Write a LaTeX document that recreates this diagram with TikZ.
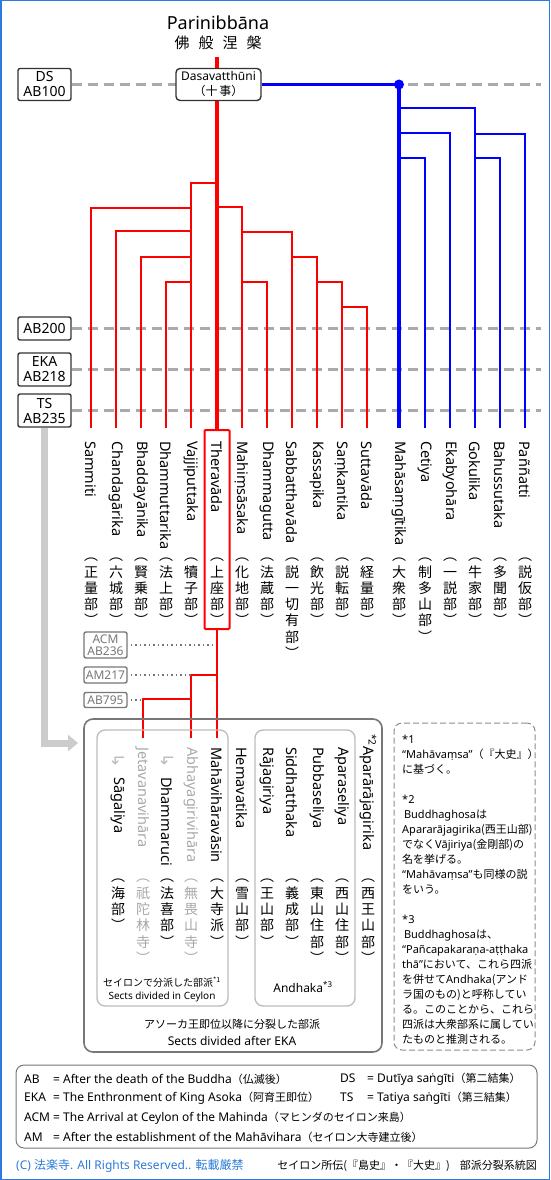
\documentclass[tikz,border=0pt]{standalone}
\usepackage{fontspec}
\setmainfont{Noto Sans}
\newfontfamily\jp{Noto Sans CJK JP}
\newfontfamily\arr{DejaVu Sans}
\usetikzlibrary{arrows.meta}

\definecolor{dashgray}{HTML}{AAAAAA}
\definecolor{boxgray}{HTML}{777777}
\definecolor{softgray}{HTML}{BBBBBB}
\definecolor{paligray}{HTML}{A8A8A8}
\definecolor{frameblue}{HTML}{2A7AE2}
\definecolor{copyblue}{HTML}{2B7BD6}

% japanese inline, and vertical stacks of kanji in brackets
\newcommand\ja[1]{{\jp #1}}
\newcommand\jas[1]{{\jp\fontsize{11}{12}\selectfont #1}}
\def\vjstop{\vjstop}
\def\vjend#1\vjloop{\fi}
\def\vjloop#1{\ifx#1\vjstop\vjend\fi\\#1\vjloop}
\newcommand\vj[1]{︵\vjloop#1\vjstop\\︶}

\tikzstyle{era} = [rectangle, rounded corners=2pt, draw=black!80, line width=1.4pt, fill=white, minimum width=53pt, inner sep=0pt, align=center, font=\fontsize{14}{15}\selectfont]
\tikzstyle{eraline} = [dashgray, line width=3pt, dash pattern=on 10pt off 6pt]
\tikzstyle{council} = [rectangle, rounded corners=4pt, draw=black!80, line width=1.4pt, fill=white, minimum width=85pt, minimum height=32pt, inner sep=0pt, align=center, font=\fontsize{12}{15}\selectfont]
\tikzstyle{redtrunk} = [red, line width=3.5pt]
\tikzstyle{redln} = [red, line width=2pt]
\tikzstyle{bluetrunk} = [blue, line width=3.5pt]
\tikzstyle{blueln} = [blue, line width=2pt]
\tikzstyle{sect} = [rotate=-90, anchor=west, inner sep=0pt, font=\fontsize{14.5}{16}\selectfont]
\tikzstyle{kanji} = [anchor=north, inner sep=0pt, align=center, font=\jp\fontsize{14}{16.3}\selectfont]
\tikzstyle{hook} = [rotate=-90, inner sep=0pt, text=softgray, font=\arr\fontsize{17}{17}\selectfont]
\tikzstyle{later} = [rectangle, rounded corners=2pt, draw=boxgray, line width=1.4pt, text=boxgray, minimum width=43pt, inner sep=0pt, align=center, font=\fontsize{12}{12}\selectfont]
\tikzstyle{dotline} = [boxgray, line width=1.5pt, dash pattern=on 1.5pt off 3pt]
\tikzstyle{bigarrow} = [black!20, line width=7pt, -{Triangle[length=10pt,width=16pt]}]
\tikzstyle{group} = [rectangle, rounded corners=9pt, draw=boxgray, line width=1.6pt, inner sep=0pt]
\tikzstyle{subgroup} = [rectangle, rounded corners=8pt, draw=softgray, line width=1.3pt, inner sep=0pt]
\tikzstyle{notebox} = [rectangle, rounded corners=8pt, draw=black!45, line width=1pt, dash pattern=on 6pt off 3pt, inner sep=0pt]
\tikzstyle{legend} = [anchor=west, inner sep=0pt, font=\fontsize{12}{14}\selectfont]

\begin{document}
\begin{tikzpicture}[x=1pt, y=-1pt]
\useasboundingbox (0,0) rectangle (550,1180);
\draw[frameblue, line width=1.5pt] (0.75,0.75) rectangle (549.25,1179.25);

% time marks
\node[era, minimum height=32pt] (ds) at (44.5,84.5) {DS\\AB100};
\node[era, minimum height=23pt] (ab200) at (44.5,328.5) {AB200};
\node[era, minimum height=33pt] (eka) at (44.5,369.5) {EKA\\AB218};
\node[era, minimum height=33pt] (ts) at (44.5,410.5) {TS\\AB235};
\coordinate (edge) at (541,0);
\draw[eraline] (ds.east) -- (ds.east -| edge);
\draw[eraline] (ab200.east) -- (ab200.east -| edge);
\draw[eraline] (eka.east) -- (eka.east -| edge);
\draw[eraline] (ts.east) -- (ts.east -| edge);

\node[inner sep=0pt, font=\fontsize{18}{20}\selectfont] (pari) at (218,23) {Parinibbāna};
\node[inner sep=0pt, font=\jp\fontsize{15}{18}\selectfont] (parijp) at (218,43) {佛\hspace{9pt}般\hspace{9pt}涅\hspace{9pt}槃};
\node[council] (dasa) at (218.5,84.5) {Dasavatthūni\\{\jp\fontsize{12}{13}\selectfont （十\hspace{2pt}事）}};

% line ends
\coordinate (nib) at (217,57);
\coordinate (sam) at (91,428);
\coordinate (cha) at (116,428);
\coordinate (bha) at (141,428);
\coordinate (dmu) at (166,428);
\coordinate (vaj) at (191,428);
\coordinate (the) at (217,428);
\coordinate (mah) at (242,428);
\coordinate (dmg) at (267,428);
\coordinate (sab) at (292,428);
\coordinate (kas) at (317,428);
\coordinate (sak) at (342,428);
\coordinate (sut) at (367,428);
\coordinate (msg) at (399,428);
\coordinate (cet) at (425,428);
\coordinate (eby) at (450,428);
\coordinate (gok) at (475,428);
\coordinate (bah) at (500,428);
\coordinate (pan) at (525,428);
\coordinate (bdot) at (dasa.east -| msg);

\node[draw=red, line width=2pt, rounded corners=1pt, minimum width=25pt, minimum height=199pt, inner sep=0pt] (tbox) at (217,529.5) {};

% Theravada side
\draw[redtrunk] (nib) -- (nib |- dasa.north);
\draw[redtrunk] (nib |- dasa.south) -- (tbox.north);
\draw[redln] (the |- 0,183) -| (vaj);
\draw[redln] (vaj |- 0,208) -| (sam);
\draw[redln] (vaj |- 0,231) -| (cha);
\draw[redln] (vaj |- 0,257) -| (bha);
\draw[redln] (vaj |- 0,282) -| (dmu);
\draw[redln] (the |- 0,207) -| (mah);
\draw[redln] (mah |- 0,232) -| (sab);
\draw[redln] (mah |- 0,282) -| (dmg);
\draw[redln] (sab |- 0,257) -| (kas);
\draw[redln] (kas |- 0,282) -| (sak);
\draw[redln] (sak |- 0,307) -| (sut);

% Mahasamghika side
\draw[bluetrunk] (dasa.east) -- (bdot) -- (msg);
\fill[blue] (bdot) circle (5pt);
\draw[blueln] (msg |- 0,108) -| (gok);
\draw[blueln] (msg |- 0,133) -| (eby);
\draw[blueln] (msg |- 0,158) -| (cet);
\draw[blueln] (gok |- 0,134) -| (pan);
\draw[blueln] (gok |- 0,158) -| (bah);

\node[sect] (sam-n) at (91,441) {Sammiti};
\node[sect] (cha-n) at (116,441) {Chandagārika};
\node[sect] (bha-n) at (141,441) {Bhaddayānika};
\node[sect] (dmu-n) at (166,441) {Dhammuttarika};
\node[sect] (vaj-n) at (191,441) {Vajjiputtaka};
\node[sect] (the-n) at (217,441) {Theravāda};
\node[sect] (mah-n) at (242,441) {Mahiṃsāsaka};
\node[sect] (dmg-n) at (267,441) {Dhammagutta};
\node[sect] (sab-n) at (292,441) {Sabbatthavāda};
\node[sect] (kas-n) at (317,441) {Kassapika};
\node[sect] (sak-n) at (342,441) {Saṃkantika};
\node[sect] (sut-n) at (367,441) {Suttavāda};
\node[sect] (msg-n) at (399,441) {Mahāsaṃgītika};
\node[sect] (cet-n) at (425,441) {Cetiya};
\node[sect] (eby-n) at (450,441) {Ekabyohāra};
\node[sect] (gok-n) at (475,441) {Gokulika};
\node[sect] (bah-n) at (500,441) {Bahussutaka};
\node[sect] (pan-n) at (525,441) {Paññatti};

\node[kanji] (sam-k) at (91,558) {\vj{正量部}};
\node[kanji] (cha-k) at (116,558) {\vj{六城部}};
\node[kanji] (bha-k) at (141,558) {\vj{賢乗部}};
\node[kanji] (dmu-k) at (166,558) {\vj{法上部}};
\node[kanji] (vaj-k) at (191,558) {\vj{犢子部}};
\node[kanji] (the-k) at (217,558) {\vj{上座部}};
\node[kanji] (mah-k) at (242,558) {\vj{化地部}};
\node[kanji] (dmg-k) at (267,558) {\vj{法蔵部}};
\node[kanji] (sab-k) at (292,558) {\vj{説一切有部}};
\node[kanji] (kas-k) at (317,558) {\vj{飲光部}};
\node[kanji] (sak-k) at (342,558) {\vj{説転部}};
\node[kanji] (sut-k) at (367,558) {\vj{経量部}};
\node[kanji] (msg-k) at (399,558) {\vj{大衆部}};
\node[kanji] (cet-k) at (425,558) {\vj{制多山部}};
\node[kanji] (eby-k) at (450,558) {\vj{一説部}};
\node[kanji] (gok-k) at (475,558) {\vj{牛家部}};
\node[kanji] (bah-k) at (500,558) {\vj{多聞部}};
\node[kanji] (pan-k) at (525,558) {\vj{説仮部}};

% Ceylon
\node[later, minimum height=26pt] (acm) at (105.5,645) {ACM\\AB236};
\node[later, minimum height=16pt] (am) at (105.5,675) {AM217};
\node[later, minimum height=15pt] (ab795) at (105.5,700) {AB795};
\coordinate (mvs) at (217,738);
\coordinate (abh) at (191,738);
\coordinate (jet) at (143,738);
\draw[redln] (tbox.south) -- (mvs);
\draw[redln] (mvs |- 0,675) -| (abh);
\draw[redln] (abh |- 0,699) -| (jet);
\draw[dotline, shorten <=3pt, shorten >=4pt] (acm.east) -- (acm.east -| mvs);
\draw[dotline, shorten <=3pt] (am.east) -- (am.east -| abh);
\draw[dotline, shorten <=3pt] (ab795.east) -- (ab795.east -| jet);

\node[group, minimum width=298pt, minimum height=333pt] (after) at (233,885.5) {};
\node[subgroup, minimum width=131pt, minimum height=276pt] (ceylon) at (162.5,868) {};
\node[subgroup, minimum width=100pt, minimum height=276pt] (andhaka) at (305,868) {};
\node[notebox, minimum width=141pt, minimum height=327pt] (notes) at (464.5,886.5) {};
\coordinate (grparr) at (78,743);
\draw[bigarrow] (ts.south) |- (grparr);

\node[sect] (mvs-n) at (217,747) {Mahāvihāravāsin};
\node[sect, text=paligray] (abh-n) at (191,747) {Abhayagirivihāra};
\node[hook] (dmr-a) at (167,761) {↳};
\node[sect] (dmr-n) at (167,777) {Dhammaruci};
\node[sect, text=paligray] (jet-n) at (143,747) {Jetavanavihāra};
\node[hook] (sag-a) at (118,761) {↳};
\node[sect] (sag-n) at (118,777) {Sāgaliya};
\node[sect] (hem-n) at (242,747) {Hemavatika};
\node[sect] (raj-n) at (267,747) {Rājagiriya};
\node[sect] (sid-n) at (292,747) {Siddhatthaka};
\node[sect] (pub-n) at (317,747) {Pubbaseliya};
\node[sect] (apa-n) at (342,747) {Aparaseliya};
\node[sect] (apr-n) at (368,734) {\textsuperscript{*2}Aparārājagirika};

\node[kanji] (mvs-k) at (217,879) {\vj{大寺派}};
\node[kanji, text=paligray] (abh-k) at (191,879) {\vj{無畏山寺}};
\node[kanji] (dmr-k) at (167,879) {\vj{法喜部}};
\node[kanji, text=paligray] (jet-k) at (143,879) {\vj{祇陀林寺}};
\node[kanji] (sag-k) at (118,879) {\vj{海部}};
\node[kanji] (hem-k) at (242,879) {\vj{雪山部}};
\node[kanji] (raj-k) at (267,879) {\vj{王山部}};
\node[kanji] (sid-k) at (292,879) {\vj{義成部}};
\node[kanji] (pub-k) at (317,879) {\vj{東山住部}};
\node[kanji] (apa-k) at (342,879) {\vj{西山住部}};
\node[kanji] (apr-k) at (368,879) {\vj{西王山部}};

\node[inner sep=0pt, font=\jp\fontsize{10}{12}\selectfont] (cey-jp) at (162,982) {セイロンで分派した部派\textsuperscript{*1}};
\node[inner sep=0pt, font=\fontsize{10}{12}\selectfont] (cey-en) at (162,997) {Sects divided in Ceylon};
\node[inner sep=0pt, font=\fontsize{12}{14}\selectfont] (andh) at (303,987) {Andhaka\textsuperscript{*3}};
\node[inner sep=0pt, font=\jp\fontsize{11}{13}\selectfont] (aft-jp) at (232,1024) {アソーカ王即位以降に分裂した部派};
\node[inner sep=0pt, font=\fontsize{12}{14}\selectfont] (aft-en) at (232,1041) {Sects divided after EKA};

% notes
\node[anchor=north west, inner sep=0pt, align=left, font=\fontsize{11}{15}\selectfont] (note-t) at (402,735) {%
*1\\
“Mahāvaṃsa”\ja{（『大史』）}\\
\ja{に基づく。}\\[15pt]
*2\\
\,Buddhaghosa\ja{は}\\
Apararājagirika\ja{(西王山部)}\\
\ja{でなく}Vājiriya\ja{(金剛部)の}\\
\ja{名を挙げる。}\\
“Mahāvaṃsa”\ja{も同様の説}\\
\ja{をいう。}\\[15pt]
*3\\
\,Buddhaghosa\ja{は、}\\
“Pañcapakaraṇa-aṭṭhaka\\
thā”\ja{において、これら四派}\\
\ja{を併せて}Andhaka\ja{(アンド}\\
\ja{ラ国のもの)と呼称してい}\\
\ja{る。このことから、これら}\\
\ja{四派は大衆部系に属してい}\\
\ja{たものと推測される。}};

% legend
\node[rectangle, rounded corners=8pt, draw=boxgray, line width=1pt, minimum width=521pt, minimum height=83pt, inner sep=0pt] (legbox) at (276.5,1106.5) {};
\node[legend] (lg-ab) at (24,1079) {\makebox[29pt][l]{AB}= After the death of the Buddha\jas{（仏滅後）}};
\node[legend] (lg-eka) at (24,1098) {\makebox[29pt][l]{EKA}= The Enthronment of King Asoka\jas{（阿育王即位）}};
\node[legend] (lg-acm) at (24,1118) {\makebox[29pt][l]{ACM}= The Arrival at Ceylon of the Mahinda\jas{（マヒンダのセイロン来島）}};
\node[legend] (lg-am) at (24,1137) {\makebox[29pt][l]{AM}= After the establishment of the Mahāvihara\jas{（セイロン大寺建立後）}};
\node[legend] (lg-ds) at (340,1079) {\makebox[27pt][l]{DS}= Dutīya saṅgīti\jas{（第二結集）}};
\node[legend] (lg-ts) at (340,1098) {\makebox[27pt][l]{TS}= Tatiya saṅgīti\jas{（第三結集）}};

\node[anchor=west, inner sep=0pt, text=copyblue, font=\fontsize{12}{14}\selectfont] (copy) at (16,1166) {(C) \ja{法楽寺}. All Rights Reserved.. \ja{転載厳禁}};
\node[anchor=east, inner sep=0pt, font=\jp\fontsize{11}{14}\selectfont] (title) at (537,1166) {セイロン所伝(『島史』・『大史』)\hspace{10pt}部派分裂系統図};
\end{tikzpicture}
\end{document}
